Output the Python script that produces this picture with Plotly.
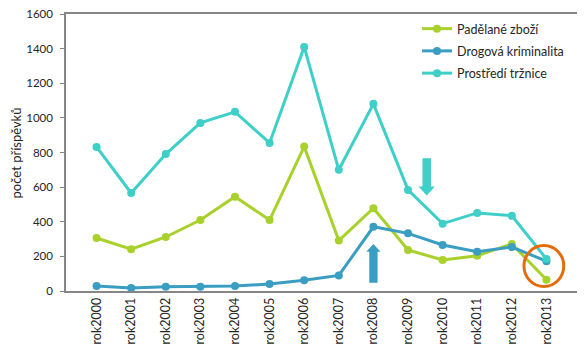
import plotly.graph_objects as go

years = ["rok2000", "rok2001", "rok2002", "rok2003", "rok2004", "rok2005", "rok2006",
         "rok2007", "rok2008", "rok2009", "rok2010", "rok2011", "rok2012", "rok2013"]
padelane = [306, 241, 312, 410, 545, 410, 834, 291, 478, 237, 179, 204, 272, 65]
drogova = [29, 17, 25, 25, 29, 40, 62, 90, 371, 333, 266, 227, 254, 172]
trznice = [832, 566, 791, 971, 1035, 855, 1410, 700, 1081, 584, 389, 451, 435, 185]

series = [
    ("Padělané zboží", padelane, "#A8D12C"),
    ("Drogová kriminalita", drogova, "#3A9DC2"),
    ("Prostředí tržnice", trznice, "#3ECFC8"),
]

FONT = "Lato"
fig = go.Figure()
for i, (name, vals, col) in enumerate(series):
    fig.add_trace(go.Scatter(
        x=years, y=vals, name=name, mode="lines+markers",
        legendgroup=f"g{i}",
        line=dict(color=col, width=3),
        marker=dict(color=col, size=8),
    ))

# arrows and circle (annotation decorations)
def arrow_up(xc, y_bottom, y_headbase, y_tip, sw, hw):
    return (f"M {xc-sw},{y_bottom} L {xc-sw},{y_headbase} L {xc-hw},{y_headbase} "
            f"L {xc},{y_tip} L {xc+hw},{y_headbase} L {xc+sw},{y_headbase} L {xc+sw},{y_bottom} Z")

fig.add_shape(type="path", xref="x", yref="y",
              path=arrow_up(8, 48, 226, 272, 0.12, 0.205),
              fillcolor="#3A9DC2", line=dict(width=0))
fig.add_shape(type="path", xref="x", yref="y",
              path=arrow_up(9.54, 767, 603, 551, 0.123, 0.235),
              fillcolor="#3ECFC8", line=dict(width=0))
fig.add_shape(type="circle", xref="x", yref="y",
              x0=12.35, x1=13.5, y0=26, y1=263,
              line=dict(color="#E46C0A", width=3))

fig.add_annotation(text="počet příspěvků", textangle=-90, xref="paper", yref="paper",
                   x=-0.098, y=0.5, xanchor="center", yanchor="middle", showarrow=False,
                   font=dict(size=13, color="#262626"))

# page body has an 8px margin, so the figure is drawn 8px smaller and offset
fig.update_layout(
    width=577, height=351,
    margin=dict(l=58, r=8, t=6, b=68),
    paper_bgcolor="white", plot_bgcolor="white",
    font=dict(family=FONT, size=12, color="#262626"),
    showlegend=True,
    legend=dict(x=0.687, y=1.0, xanchor="left", yanchor="top", tracegroupgap=3,
                bgcolor="rgba(0,0,0,0)", font=dict(size=12.5, color="#262626")),
    xaxis=dict(
        type="category", tickangle=-90, showline=True, linecolor="#868686",
        linewidth=1.5, mirror=True, showgrid=False, ticks="", automargin=False,
        tickfont=dict(size=12.5), ticklabeloverflow="allow",
    ),
    yaxis=dict(
        range=[0, 1600], dtick=200, showline=True, linecolor="#868686",
        linewidth=1.5, mirror=True, showgrid=False, ticks="outside", ticklen=4,
        tickcolor="#868686", zeroline=False, automargin=False, ticklabelstandoff=5,
        ticklabeloverflow="allow", tickfont=dict(size=11.5),
    ),
)

fig.write_html("out.html")
